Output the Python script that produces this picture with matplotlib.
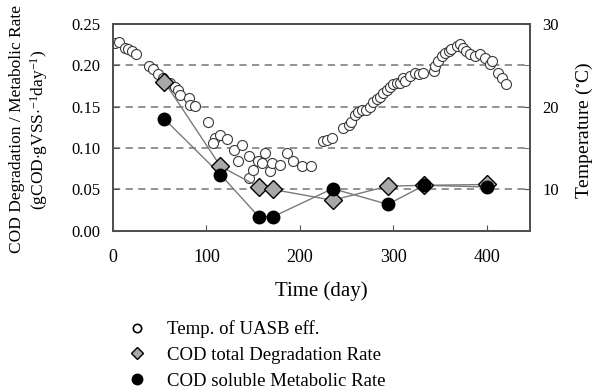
import matplotlib
matplotlib.use("Agg")
import matplotlib.pyplot as plt
from matplotlib.lines import Line2D
from matplotlib.ticker import MultipleLocator

plt.rcParams["font.family"] = ["Liberation Serif", "DejaVu Serif"]
plt.rcParams["mathtext.fontset"] = "custom"
plt.rcParams["mathtext.rm"] = "Liberation Serif"
plt.rcParams["mathtext.it"] = "Liberation Serif:italic"

# temperature of UASB effluent (right axis)
temp_day = [2, 6, 12.8, 16, 20, 25, 39, 43, 48, 54, 61, 66, 70, 72, 81, 82, 88,
            102, 109, 107, 114, 122, 129, 134, 138, 145, 146, 150, 155, 159, 163,
            168, 170, 179, 186, 193, 202, 212, 225, 229, 234, 246, 252, 255, 259,
            262, 266, 271, 275, 278, 282, 286, 289, 293, 296, 300, 304, 307, 310,
            312, 318, 323, 327, 332, 343, 344, 348, 352, 355, 359, 362, 368, 371,
            375, 378, 382, 387, 393, 398, 403, 405, 412, 416, 421]
temp_c = [27.7, 27.8, 27.1, 26.9, 26.7, 26.3, 24.9, 24.5, 23.9, 23.5, 22.9, 22.4,
          22.0, 21.4, 21.0, 20.2, 20.1, 18.1, 16.2, 15.6, 16.6, 16.1, 14.8, 13.4,
          15.4, 14.0, 11.4, 12.4, 13.4, 13.2, 14.4, 12.2, 13.2, 13.0, 14.4, 13.4,
          12.8, 12.8, 15.8, 16.0, 16.2, 17.4, 17.8, 18.2, 19.0, 19.4, 19.6, 19.6,
          20.0, 20.5, 20.9, 21.2, 21.7, 22.0, 22.4, 22.7, 22.8, 22.9, 23.4, 23.1,
          23.7, 24.1, 23.9, 24.1, 24.3, 24.9, 25.5, 26.1, 26.5, 26.7, 26.9, 27.3,
          27.5, 27.1, 26.7, 26.3, 26.1, 26.3, 25.9, 25.1, 25.5, 24.1, 23.5, 22.7]

# rates (left axis)
rate_day = [55, 115, 156, 171, 235, 294, 333, 400]
total_rate = [0.180, 0.078, 0.053, 0.050, 0.037, 0.054, 0.055, 0.056]
soluble_rate = [0.135, 0.068, 0.017, 0.017, 0.051, 0.032, 0.055, 0.053]

fig = plt.figure(figsize=(5.98, 3.90), dpi=100)
ax = fig.add_axes([0.189, 0.408, 0.697, 0.531])
ax2 = ax.twinx()

# temperature axis goes underneath, rates on top
ax.set_zorder(ax2.get_zorder() + 1)
ax.patch.set_visible(False)

ax2.plot(temp_day, temp_c, ls="none", marker="o", ms=7.2, mfc="white",
         mec="#3a3a3a", mew=0.8)
ax2.set_ylim(5, 30)
ax2.yaxis.set_major_locator(MultipleLocator(10))
ax2.yaxis.set_minor_locator(MultipleLocator(5))
ax2.grid(True, which="both", axis="y", ls=(0, (4, 3)), color="#8a8a8a", lw=1.3)
ax2.set_axisbelow(True)

ax.plot(rate_day, total_rate, color="#7a7a7a", lw=1.0, zorder=2)
ax.plot(rate_day, soluble_rate, color="#7a7a7a", lw=1.0, zorder=2)
ax.plot(rate_day, total_rate, ls="none", marker="D", ms=9, mfc="#a8a8a8",
        mec="black", mew=1.0, zorder=3)
ax.plot(rate_day, soluble_rate, ls="none", marker="o", ms=9, mfc="black",
        mec="black", zorder=4)

ax.set_xlim(0, 446)
ax.set_ylim(0, 0.25)
ax.xaxis.set_major_locator(MultipleLocator(100))
ax.yaxis.set_major_locator(MultipleLocator(0.05))
ax.yaxis.set_major_formatter(matplotlib.ticker.FormatStrFormatter("%.2f"))

for a in (ax, ax2):
    for s in a.spines.values():
        s.set_color("#505050")
        s.set_linewidth(1.4)
ax.tick_params(axis="x", direction="in", length=4, color="#505050",
               labelsize=13, pad=13)
ax.tick_params(axis="y", direction="in", length=4, color="#505050",
               labelsize=12, pad=9)
ax2.tick_params(which="both", direction="in", length=4, color="#505050",
                labelsize=12, pad=9)

ax.set_xlabel("Time (day)", fontsize=15)
ax.xaxis.set_label_coords(0.5, -0.245)
ax.set_ylabel("COD Degradation / Metabolic Rate\n"
              r"(gCOD$\cdot$gVSS$\cdot$$^{-1}$day$^{-1}$)",
              fontsize=12.5, linespacing=1.15)
ax.yaxis.set_label_coords(-0.152, 0.49)
ax2.set_ylabel(r"Temperature ($\mathregular{^{\circ}}$C)", fontsize=14)
ax2.yaxis.set_label_coords(1.106, 0.483)

handles = [
    Line2D([], [], ls="none", marker="o", ms=6, mfc="white", mec="black", mew=1.2),
    Line2D([], [], ls="none", marker="D", ms=6, mfc="#a8a8a8", mec="black", mew=1.0),
    Line2D([], [], ls="none", marker="o", ms=7.5, mfc="black", mec="black"),
]
labels = ["Temp. of UASB eff.", "COD total Degradation Rate",
          "COD soluble Metabolic Rate"]
fig.legend(handles, labels, loc="upper left", bbox_to_anchor=(0.214, 0.178),
           frameon=False, fontsize=13.5, handletextpad=1.1, labelspacing=0.45,
           borderpad=0, borderaxespad=0, handlelength=1.0)

fig.savefig("out.png", dpi=100)
